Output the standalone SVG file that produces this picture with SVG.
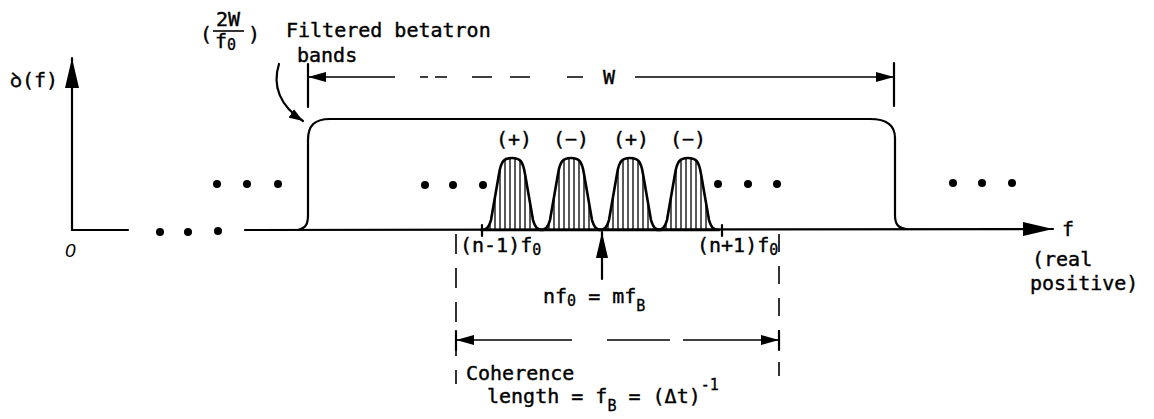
<svg xmlns="http://www.w3.org/2000/svg" width="1154" height="419" viewBox="0 0 1154 419">
<style>
  .ln { stroke:#000; stroke-width:2.2; fill:none; stroke-linecap:round; stroke-linejoin:round; }
  .pk { stroke:#000; stroke-width:2.6; fill:none; stroke-linejoin:round; }
  .dash { stroke:#000; stroke-width:1.6; fill:none; }
  .hatch { stroke:#000; stroke-width:1.3; }
  .t { font-family:"DejaVu Sans Mono","Liberation Mono",monospace; font-size:20px; fill:#000; stroke:#000; stroke-width:0.4; }
  .s { font-family:"DejaVu Sans Mono","Liberation Mono",monospace; font-size:15px; fill:#000; stroke:#000; stroke-width:0.3; }
  .dot { fill:#000; }
</style>
<defs>
  <marker id="ahS" markerUnits="userSpaceOnUse" markerWidth="18" markerHeight="10" refX="18" refY="5" orient="auto-start-reverse">
    <path d="M0,0 L18,5 L0,10 Z" fill="#000"/>
  </marker>
  <marker id="ahL" markerUnits="userSpaceOnUse" markerWidth="30" markerHeight="14" refX="30" refY="7" orient="auto">
    <path d="M0,0 L30,7 L0,14 Z" fill="#000"/>
  </marker>
  <marker id="ahM" markerUnits="userSpaceOnUse" markerWidth="26" markerHeight="12" refX="26" refY="6" orient="auto">
    <path d="M0,0 L26,6 L0,12 Z" fill="#000"/>
  </marker>
  <marker id="ahC" markerUnits="userSpaceOnUse" markerWidth="14" markerHeight="10" refX="14" refY="5" orient="auto">
    <path d="M0,0 L14,5 L0,10 Z" fill="#000"/>
  </marker>
  <path id="peak" d="M-31,230 C-25,230 -23,227 -21,220 L-13,174 C-11,161 -8,158 0,158 C8,158 11,161 13,174 L21,220 C23,227 25,230 31,230 Z"/>
  <clipPath id="pc1"><use href="#peak" x="512"/></clipPath>
  <clipPath id="pc2"><use href="#peak" x="571"/></clipPath>
  <clipPath id="pc3"><use href="#peak" x="630"/></clipPath>
  <clipPath id="pc4"><use href="#peak" x="688"/></clipPath>
  <g id="hatchset">
    <line class="hatch" x1="-22" y1="150" x2="-22" y2="231"/>
    <line class="hatch" x1="-17" y1="150" x2="-17" y2="231"/>
    <line class="hatch" x1="-12" y1="150" x2="-12" y2="231"/>
    <line class="hatch" x1="-7" y1="150" x2="-7" y2="231"/>
    <line class="hatch" x1="-2" y1="150" x2="-2" y2="231"/>
    <line class="hatch" x1="3" y1="150" x2="3" y2="231"/>
    <line class="hatch" x1="8" y1="150" x2="8" y2="231"/>
    <line class="hatch" x1="13" y1="150" x2="13" y2="231"/>
    <line class="hatch" x1="18" y1="150" x2="18" y2="231"/>
  </g>
</defs>

<g id="connectors">
  <line class="ln" x1="72" y1="230" x2="72" y2="58" marker-end="url(#ahL)"/>
  <line class="ln" x1="72" y1="230" x2="128" y2="230"/>
  <line class="ln" x1="245" y1="230" x2="1053" y2="229" marker-end="url(#ahL)"/>
  <line class="ln" x1="308" y1="64" x2="308" y2="107"/>
  <line class="ln" x1="894" y1="63" x2="894" y2="106"/>
  <path class="dash" d="M308,77 L395,77 M420,77 L428,77 M435,77 L447,77 M472,77 L492,77 M510,77 L530,77 M567,77 L583,77" marker-start="url(#ahS)"/>
  <line class="dash" x1="635" y1="77" x2="894" y2="77" marker-end="url(#ahS)"/>
  <path class="ln" d="M279,64 C272,86 280,106 303,121" marker-end="url(#ahC)"/>
  <line class="ln" x1="482" y1="225" x2="482" y2="236"/>
  <line class="ln" x1="722" y1="225" x2="722" y2="236"/>
  <line class="dash" x1="456" y1="234" x2="456" y2="384" stroke-dasharray="20 14"/>
  <line class="dash" x1="779" y1="234" x2="779" y2="376" stroke-dasharray="18 14"/>
  <line class="ln" x1="456" y1="331" x2="456" y2="350"/>
  <line class="ln" x1="779" y1="331" x2="779" y2="350"/>
  <line class="ln" x1="602" y1="279" x2="602" y2="232" marker-end="url(#ahM)"/>
  <path class="dash" d="M572,340 L456,340" marker-end="url(#ahS)"/>
  <line class="dash" x1="607" y1="340" x2="670" y2="340"/>
  <line class="dash" x1="683" y1="340" x2="779" y2="340" marker-end="url(#ahS)"/>
</g>

<g id="band">
  <path class="ln" d="M298,230 C306,228 308,224 308,215 L308,140 C308,126 314,119 330,119 L870,119 C886,119 895,125 895,138 L895,215 C895,224 898,228 906,229"/>
</g>

<g id="peaks">
  <g clip-path="url(#pc1)"><use href="#hatchset" x="512"/></g>
  <g clip-path="url(#pc2)"><use href="#hatchset" x="571"/></g>
  <g clip-path="url(#pc3)"><use href="#hatchset" x="630"/></g>
  <g clip-path="url(#pc4)"><use href="#hatchset" x="688"/></g>
  <use href="#peak" x="512" class="pk"/>
  <use href="#peak" x="571" class="pk"/>
  <use href="#peak" x="630" class="pk"/>
  <use href="#peak" x="688" class="pk"/>
  <text class="t" x="514" y="146" text-anchor="middle">(+)</text>
  <text class="t" x="571" y="146" text-anchor="middle">(−)</text>
  <text class="t" x="631" y="146" text-anchor="middle">(+)</text>
  <text class="t" x="688" y="146" text-anchor="middle">(−)</text>
</g>

<g id="dots">
  <circle class="dot" cx="160" cy="232" r="4"/>
  <circle class="dot" cx="188" cy="232" r="4"/>
  <circle class="dot" cx="218" cy="231" r="4"/>
  <circle class="dot" cx="217" cy="184" r="4"/>
  <circle class="dot" cx="247" cy="184" r="4"/>
  <circle class="dot" cx="278" cy="184" r="4"/>
  <circle class="dot" cx="425" cy="185" r="4"/>
  <circle class="dot" cx="453" cy="185" r="4"/>
  <circle class="dot" cx="483" cy="185" r="4"/>
  <circle class="dot" cx="718" cy="184" r="4"/>
  <circle class="dot" cx="748" cy="184" r="4"/>
  <circle class="dot" cx="777" cy="184" r="4"/>
  <circle class="dot" cx="953" cy="183" r="4"/>
  <circle class="dot" cx="982" cy="183" r="4"/>
  <circle class="dot" cx="1012" cy="183" r="4"/>
</g>

<g id="labels">
  <text class="t" x="10" y="87" font-size="22">ꝺ<tspan font-size="20">(f)</tspan></text>
  <text x="65" y="257" style="font-family:'Liberation Sans',sans-serif;font-size:19px;font-style:italic">0</text>
  <text class="t" x="1062" y="236">f</text>
  <text class="t" x="1032" y="266">(real</text>
  <text class="t" x="1030" y="290">positive)</text>

  <text class="t" x="200" y="41" font-size="24">(</text>
  <text class="t" x="228" y="26" text-anchor="middle" font-size="18">2W</text>
  <line x1="213" y1="31" x2="244" y2="31" stroke="#000" stroke-width="1.6"/>
  <text class="t" x="215" y="48">f<tspan class="s" dy="2">0</tspan></text>
  <text class="t" x="248" y="41" font-size="24">)</text>
  <text class="t" x="286" y="37">Filtered betatron</text>
  <text class="t" x="297" y="62">bands</text>
  <text class="t" x="603" y="84">W</text>

  <text class="t" x="460" y="252">(n-1)f<tspan class="s" dy="3">0</tspan></text>
  <text class="t" x="697" y="252">(n+1)f<tspan class="s" dy="3">0</tspan></text>
  <text class="t" x="543" y="303">nf<tspan class="s" dy="3">0</tspan><tspan dy="-3"> = mf</tspan><tspan class="s" dy="8">B</tspan></text>
  <text class="t" x="466" y="380">Coherence</text>
  <text class="t" x="487" y="403">length  = f<tspan class="s" dy="8">B</tspan><tspan dy="-8"> = (Δt)</tspan><tspan class="s" dy="-13">-1</tspan></text>
</g>
</svg>
